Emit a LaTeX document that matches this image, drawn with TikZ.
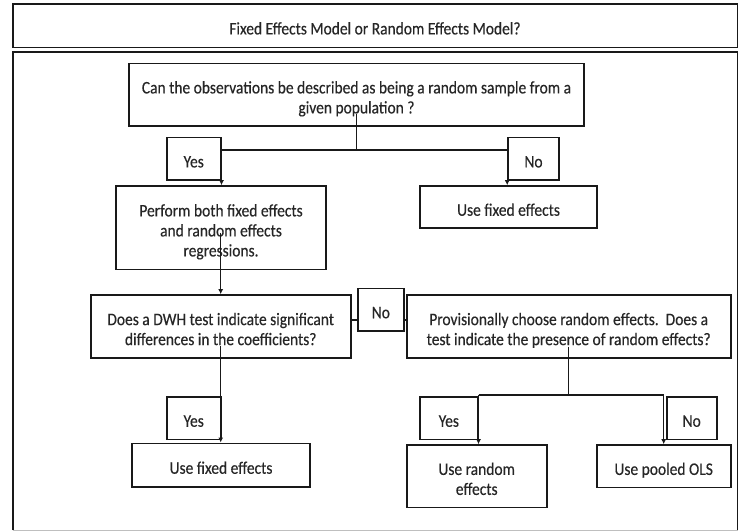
\documentclass[tikz,border=0pt]{standalone}
\usepackage{fontspec}
\setmainfont{Carlito}[FakeStretch=0.88, FakeBold=0.4]
\usetikzlibrary{arrows.meta}
\newcommand\tstr{\rule[-4pt]{0pt}{25.5pt}}
\newcommand\bstr{\rule[-4pt]{0pt}{0pt}}
\begin{document}
\begin{tikzpicture}[x=1pt,y=-1pt,
  font=\fontsize{17.6}{20}\selectfont,
  box/.style={draw=black!90, line width=1.6pt, inner sep=0pt, align=center, text=black!85},
  conn/.style={draw=black!90, line width=1.3pt},
  arr/.style={conn, -{Latex[length=5pt,width=5pt]}}]
\useasboundingbox (0,0) rectangle (740,531);
% outer frame
\draw[line width=1.6pt, black!90] (12.7,530) -- (12.7,51.7) -- (737.5,51.7) -- (737.5,530);
\draw[line width=0.8pt, black!25] (12.7,530) -- (737.5,530);
% title
\node[box, minimum width=724.6pt, minimum height=43.3pt] (title) at (375,25.65) {\tstr Fixed Effects Model or Random Effects Model?};
% nodes
\node[box, minimum width=455pt, minimum height=62.7pt] (q1) at (356.5,94.65) {\tstr Can the observations be described as being a random sample from a\\ given population ?\bstr};
\node[box, minimum width=54pt, minimum height=42.7pt] (yes1) at (193.7,158.65) {\tstr Yes};
\node[box, minimum width=51pt, minimum height=42.7pt] (no1) at (533.5,158.65) {\tstr No};
\node[box, minimum width=210pt, minimum height=83.3pt] (perform) at (221,227.65) {\tstr Perform both fixed effects\\ and random effects\\ regressions.\bstr};
\node[box, minimum width=177pt, minimum height=42pt] (usefe1) at (508.5,207) {\tstr Use fixed effects};
\node[box, minimum width=260pt, minimum height=62.7pt] (dwh) at (220.7,326.35) {\tstr Does a DWH test indicate significant\\ differences in the coefficients?\bstr};
\node[box, minimum width=46.3pt, minimum height=42.4pt] (no2) at (380.85,309.5) {\tstr No};
\node[box, minimum width=324pt, minimum height=62.7pt] (prov) at (568.7,326.35) {\tstr Provisionally choose random effects.\ \ Does a\\ test indicate the presence of random effects?\bstr};
\node[box, minimum width=54pt, minimum height=42.6pt] (yes2) at (193.7,418) {\tstr Yes};
\node[box, minimum width=178pt, minimum height=43.4pt] (usefe2) at (221,465) {\tstr Use fixed effects};
\node[box, minimum width=57.7pt, minimum height=42.6pt] (yes3) at (448.85,418) {\tstr Yes};
\node[box, minimum width=50pt, minimum height=42.6pt] (no3) at (691.7,418) {\tstr No};
\node[box, minimum width=140pt, minimum height=62.3pt] (userand) at (476.7,476.15) {\tstr Use random\\ effects\bstr};
\node[box, minimum width=134pt, minimum height=42.3pt] (pooled) at (663.7,466.15) {\tstr Use pooled OLS};
% connectors
\coordinate (j1) at (356.7,150);
\coordinate (j2) at (568.7,395);
\draw[conn] ([yshift=13pt]q1.south -| j1) -- (j1);
\draw[conn] (yes1.east |- j1) -- (no1.west |- j1);
\draw[arr] (yes1.east |- j1) -- (yes1.east |- perform.north);
\draw[arr] (no1.west |- j1) -- (no1.west |- usefe1.north);
\draw[arr] ([yshift=-5.3pt]perform.center -| dwh.north) -- (dwh.north);
\draw[arr] ([yshift=-20pt]dwh.center) -- (dwh.center |- usefe2.north);
\draw[conn] ([yshift=6.35pt]dwh.east) -- ([yshift=6.35pt]dwh.east -| no2.west);
\draw[conn] ([yshift=6.35pt]dwh.east -| no2.east) -- ([yshift=6.35pt]prov.west);
\draw[conn] ([yshift=-20.3pt]prov.center) -- (j2);
\draw[conn] (yes3.east |- j2) -- (pooled.north |- j2);
\draw[arr] (yes3.east |- j2) -- (yes3.east |- userand.north);
\draw[arr] (pooled.north |- j2) -- (pooled.north);
\end{tikzpicture}
\end{document}
